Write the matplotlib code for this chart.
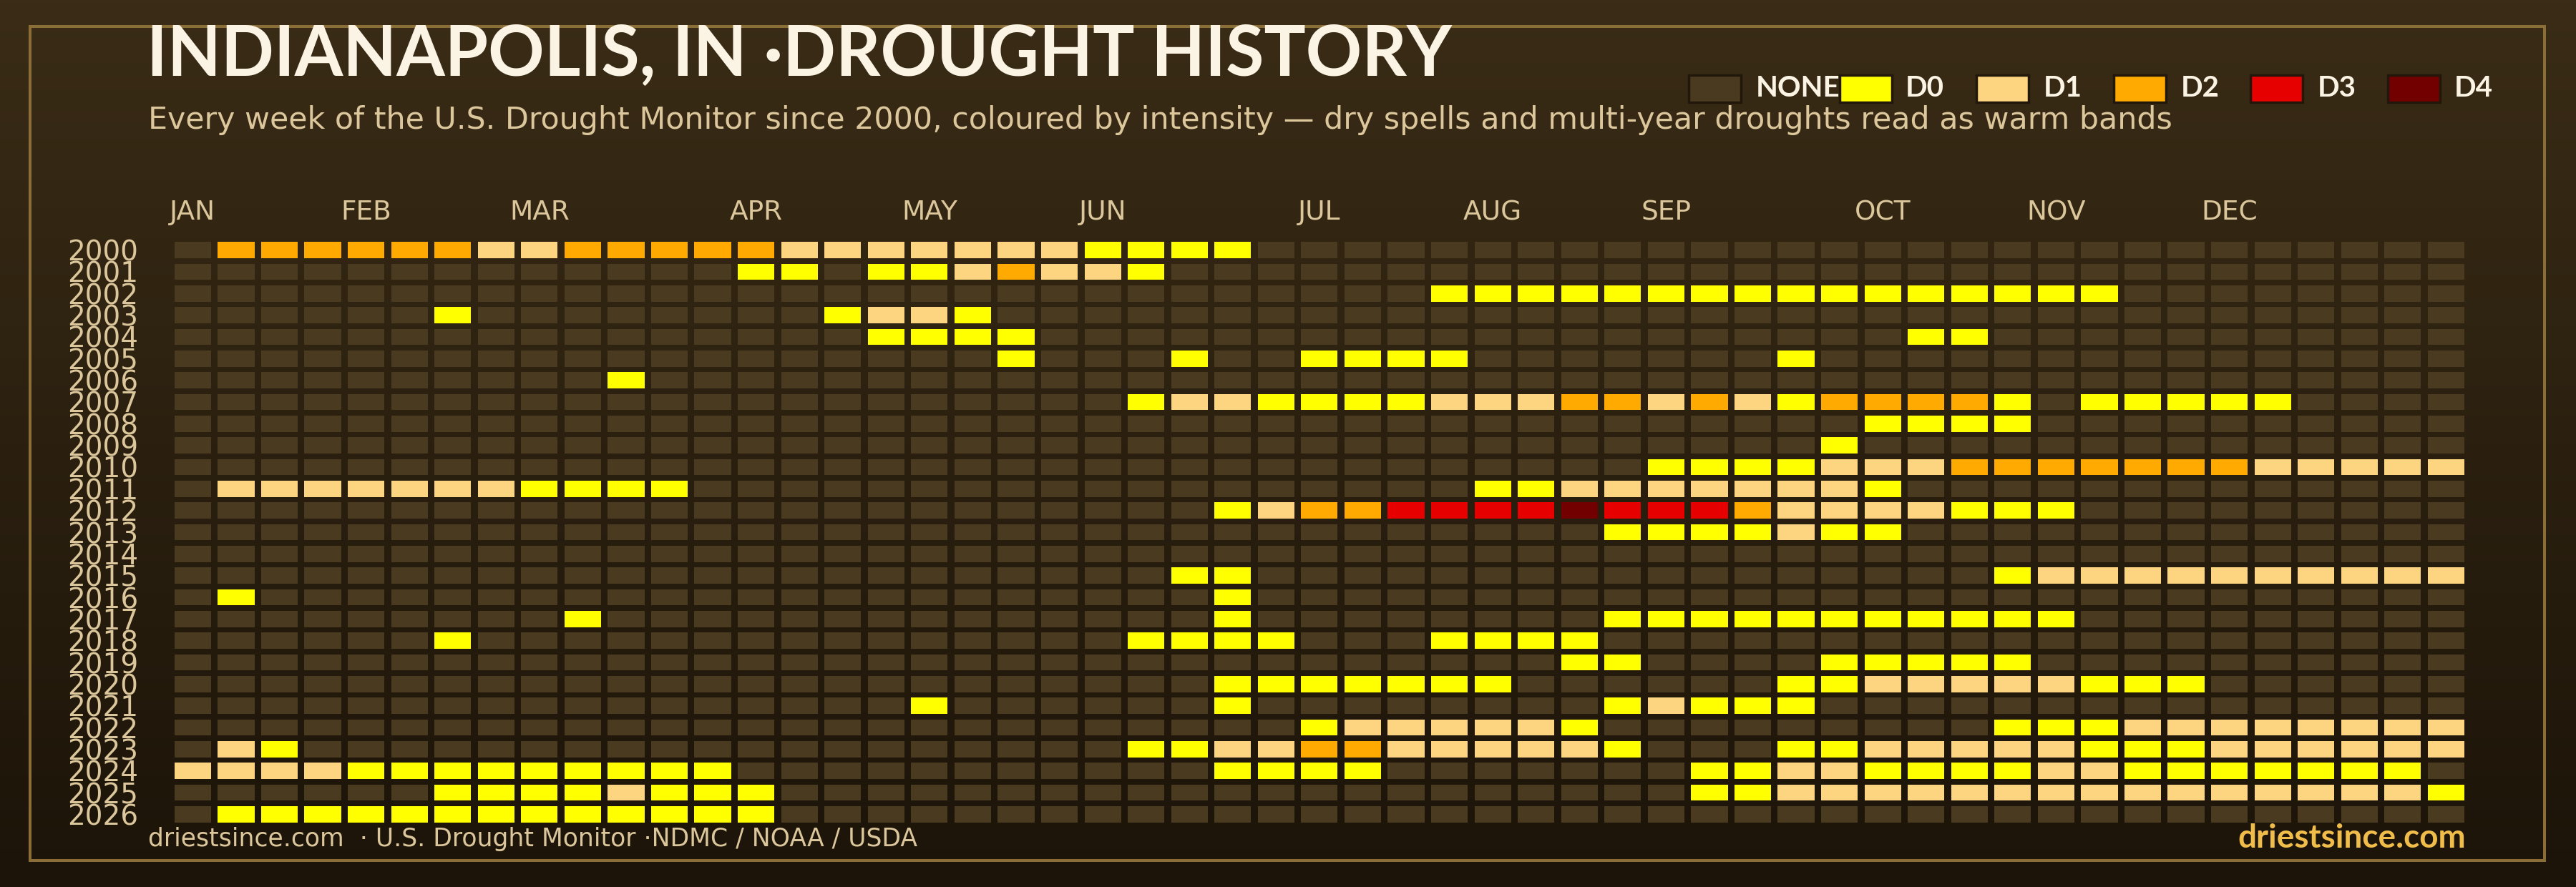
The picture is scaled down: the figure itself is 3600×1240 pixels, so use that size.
import numpy as np
import matplotlib.pyplot as plt
from matplotlib.patches import Rectangle
from matplotlib.colors import LinearSegmentedColormap

W, H = 3600, 1240

YEARS = [2000, 2001, 2002, 2003, 2004, 2005, 2006, 2007, 2008, 2009,
         2010, 2011, 2012, 2013, 2014, 2015, 2016, 2017, 2018, 2019,
         2020, 2021, 2022, 2023, 2024, 2025, 2026]

# one character per week: "-" none, "0".."4" = D0..D4 (groups of 10 weeks)
WEEKS = [
    "-222222112 2222111111 10000----- ---------- ---------- ---",  # 2000
    "---------- ---00-0012 110------- ---------- ---------- ---",  # 2001
    "---------- ---------- ---------0 0000000000 00000----- ---",  # 2002
    "------0--- -----0110- ---------- ---------- ---------- ---",  # 2003
    "---------- ------0000 ---------- ---------- 00-------- ---",  # 2004
    "---------- ---------0 ---0--0000 -------0-- ---------- ---",  # 2005
    "---------- 0--------- ---------- ---------- ---------- ---",  # 2006
    "---------- ---------- --01100001 1122121022 220-00000- ---",  # 2007
    "---------- ---------- ---------- ---------0 000------- ---",  # 2008
    "---------- ---------- ---------- --------0- ---------- ---",  # 2009
    "---------- ---------- ---------- ----000011 1222222211 111",  # 2010
    "-111111100 00-------- ---------- 0011111110 ---------- ---",  # 2011
    "---------- ---------- ----012233 3343332111 1000------ ---",  # 2012
    "---------- ---------- ---------- ---0000100 ---------- ---",  # 2013
    "---------- ---------- ---------- ---------- ---------- ---",  # 2014
    "---------- ---------- ---00----- ---------- --01111111 111",  # 2015
    "-0-------- ---------- ----0----- ---------- ---------- ---",  # 2016
    "---------0 ---------- ----0----- ---0000000 0000------ ---",  # 2017
    "------0--- ---------- --0000---0 000------- ---------- ---",  # 2018
    "---------- ---------- ---------- --00----00 000------- ---",  # 2019
    "---------- ---------- ----000000 0------001 1111000--- ---",  # 2020
    "---------- -------0-- ----0----- ---01000-- ---------- ---",  # 2021
    "---------- ---------- ------0111 110------- --00011111 111",  # 2022
    "-10------- ---------- --00112211 1110---001 1111000111 111",  # 2023
    "1111000000 000------- ----0000-- -----00110 0001100000 00-",  # 2024
    "------0000 1000------ ---------- -----00111 1111111111 110",  # 2025
    "-000000000 0000------ ---------- ---------- ---------- ---",  # 2026
]

MONTHS = ["JAN", "FEB", "MAR", "APR", "MAY", "JUN",
          "JUL", "AUG", "SEP", "OCT", "NOV", "DEC"]
MONTH_WEEK = [0, 4, 8, 13, 17, 21, 26, 30, 34, 39, 43, 47]

LEVELS = ["NONE", "D0", "D1", "D2", "D3", "D4"]
LEVEL_KEYS = "-01234"
LEVEL_COLORS = ["#4a3a1f", "#ffff00", "#fdd47f", "#ffaa00", "#e60000", "#730000"]

TAN = "#dcc79c"
CREAM = "#fbf4e4"
SANS = ["Lato", "DejaVu Sans"]

grid = np.array([[LEVEL_KEYS.index(ch) for ch in row.replace(" ", "")]
                 for row in WEEKS])

fig = plt.figure(figsize=(W / 100, H / 100), dpi=100)

# background gradient
bg = fig.add_axes([0, 0, 1, 1], zorder=-10)
bg_cmap = LinearSegmentedColormap.from_list("bg", ["#3a2c16", "#1c1409"])
bg.imshow(np.linspace(0, 1, 256)[:, None], aspect="auto", cmap=bg_cmap,
          extent=[0, 1, 0, 1])
bg.axis("off")

# frame
fig.add_artist(Rectangle((42 / W, 1 - 1203 / H), (3556 - 42) / W, (1203 - 37) / H,
                         transform=fig.transFigure, fill=False,
                         ec="#8b6d38", lw=2.9, zorder=1))

# heatmap
CELL_W = 51.2 / 60.56
CELL_H = 22.7 / 30.33
ax = fig.add_axes([243.8 / W, 1 - 1149.7 / H, 3200.2 / W, 811.4 / H])
ax.set_facecolor("none")
rows, cols = np.indices(grid.shape)
ax.bar(cols.ravel(), CELL_H, width=CELL_W, bottom=rows.ravel(), align="edge",
       color=[LEVEL_COLORS[v] for v in grid.ravel()], linewidth=0)
ax.set_xlim(0, grid.shape[1] - 1 + CELL_W)
ax.set_ylim(grid.shape[0] - 1 + CELL_H, 0)
for s in ax.spines.values():
    s.set_visible(False)

ax.set_yticks(np.arange(len(YEARS)) + CELL_H / 2, [str(y) for y in YEARS])
ax.tick_params(axis="y", length=0, pad=36.5, labelsize=28, labelcolor=TAN)
ax.xaxis.tick_top()
ax.set_xticks(np.array(MONTH_WEEK) + CELL_W / 2, MONTHS)
ax.tick_params(axis="x", length=0, pad=16.5, labelsize=27, labelcolor=TAN)

# titles
fig.text(205 / W, 1 - 106 / H, "INDIANAPOLIS, IN ·DROUGHT HISTORY",
         fontsize=70, fontweight="bold", family=SANS, color=CREAM, va="baseline")
fig.text(207 / W, 1 - 180 / H,
         "Every week of the U.S. Drought Monitor since 2000, coloured by intensity"
         " \u2014 dry spells and multi-year droughts read as warm bands",
         fontsize=30.8, family="DejaVu Sans", color=TAN, va="baseline")

# legend
SWATCH_X = [2360, 2571, 2762, 2954, 3145, 3337]
LABEL_X = [2454, 2663, 2856, 3048, 3239, 3430]
for name, color, sx, lx in zip(LEVELS, LEVEL_COLORS, SWATCH_X, LABEL_X):
    fig.add_artist(Rectangle((sx / W, 1 - 143 / H), 73 / W, 38 / H,
                             transform=fig.transFigure, fc=color,
                             ec="#21180b", lw=2.5, zorder=2))
    fig.text(lx / W, 1 - 135 / H, name, fontsize=29, fontweight="bold",
             family=SANS, color=CREAM, va="baseline")

# footer
fig.text(207 / W, 1 - 1183 / H,
         "driestsince.com  \u00b7 U.S. Drought Monitor \u00b7NDMC / NOAA / USDA",
         fontsize=24.9, family="DejaVu Sans", color=TAN, va="baseline")
fig.text(3446 / W, 1 - 1185 / H, "driestsince.com", fontsize=33,
         fontweight="bold", family=SANS, color="#f0bd4a", ha="right",
         va="baseline")

fig.savefig("out.png", dpi=100, facecolor=fig.get_facecolor())
